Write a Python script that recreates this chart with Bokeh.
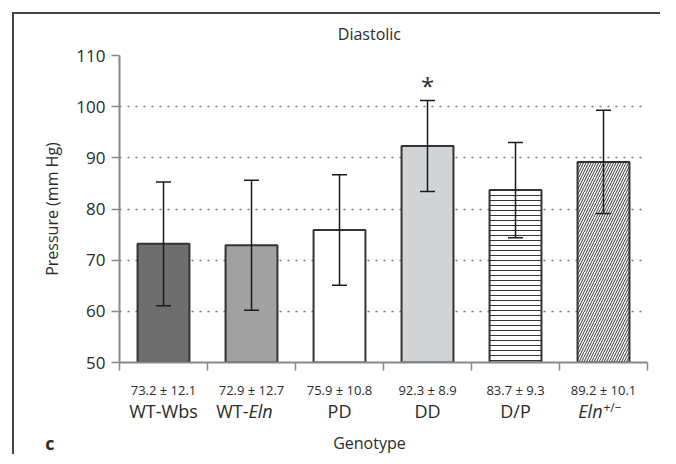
from bokeh.plotting import figure
from bokeh.models import Range1d, FixedTicker, Whisker, TeeHead, ColumnDataSource
from bokeh.layouts import column
from bokeh.core.properties import value
from bokeh.embed import file_html
from bokeh.resources import INLINE

# ---- data ----
categories = ["WT-Wbs", "WT-Eln", "PD", "DD", "D/P", "Eln+/-"]
means = [73.2, 72.9, 75.9, 92.3, 83.7, 89.2]
sds = [12.1, 12.7, 10.8, 8.9, 9.3, 10.1]
value_labels = ["73.2 ± 12.1", "72.9 ± 12.7", "75.9 ± 10.8", "92.3 ± 8.9", "83.7 ± 9.3", "89.2 ± 10.1"]
fills = ["#6e6e6e", "#a1a1a1", "#ffffff", "#d2d3d5", "#ffffff", "#ffffff"]
hatches = [" ", " ", " ", " ", "-", "/"]
y_ticks = [50, 60, 70, 80, 90, 100, 110]

FONT = "Open Sans"
TXT = "#2a2a2a"
W = 648
LEFT = 105          # space left of the plotting frame
RIGHT = W - LEFT - 528
xs = [i + 0.5 for i in range(len(categories))]
lows = [m - s for m, s in zip(means, sds)]
highs = [m + s for m, s in zip(means, sds)]
src = ColumnDataSource(dict(x=xs, top=means, fill=fills, hatch=hatches, low=lows, high=highs))

x_range = Range1d(0, 6)
BORDER = "2px solid #444444"


def text_strip(height, panel_letter=None, letter_y=None):
    f = figure(width=W, height=height, output_backend="svg", toolbar_location=None,
               x_range=x_range, y_range=Range1d(height, 0),
               min_border_left=LEFT, min_border_right=RIGHT, min_border_top=0, min_border_bottom=0,
               x_axis_location=None)
    f.grid.visible = False
    f.outline_line_color = None
    ax = f.yaxis[0]
    ax.axis_line_color = None
    ax.major_tick_line_color = None
    ax.minor_tick_line_color = None
    if panel_letter is None:
        ax.ticker = FixedTicker(ticks=[])
    else:
        ax.ticker = FixedTicker(ticks=[letter_y])
        ax.major_label_overrides = {letter_y: panel_letter}
        ax.major_label_text_font = FONT
        ax.major_label_text_font_size = "18px"
        ax.major_label_text_font_style = "bold"
        ax.major_label_text_color = TXT
        ax.major_label_standoff = 59
    return f


def put(f, x, y, text, size, style="normal", align="center", xoff=0):
    f.text(x=[x], y=[y], text=[text], text_font=value(FONT), text_font_size=size,
           text_font_style=style, text_align=align, text_baseline="middle",
           text_color=TXT, x_offset=xoff)


# ---- title strip ----
top = text_strip(30)
put(top, 2.84, 19, "Diastolic", "16px")

# ---- main chart ----
p = figure(width=W, height=340, output_backend="svg", toolbar_location=None,
           x_range=x_range, y_range=Range1d(50, 110),
           min_border_left=LEFT, min_border_right=RIGHT, min_border_top=13,
           min_border_bottom=20)
p.outline_line_color = None
p.xgrid.visible = False
p.ygrid.ticker = FixedTicker(ticks=y_ticks[1:])
p.ygrid.grid_line_color = "#777777"
p.ygrid.grid_line_dash = "2 6"
p.ygrid.grid_line_width = 1.5

p.vbar(x="x", top="top", bottom=50, width=0.59, source=src,
       fill_color="fill", line_color="#333333", line_width=2,
       hatch_pattern="hatch", hatch_color="#333333", hatch_scale=5, hatch_weight=1)

p.add_layout(Whisker(source=src, base="x", upper="high", lower="low", dimension="height",
                     line_color="#1a1a1a", line_width=1.5, level="overlay",
                     upper_head=TeeHead(size=15, line_color="#1a1a1a", line_width=1.5),
                     lower_head=TeeHead(size=15, line_color="#1a1a1a", line_width=1.5)))

p.text(x=[xs[3]], y=[highs[3]], text=["*"], text_font=value(FONT), text_font_size="24px",
       text_align="center", text_baseline="alphabetic", text_color=TXT, y_offset=-15)

p.xaxis.ticker = FixedTicker(ticks=list(range(len(categories) + 1)))
p.xaxis.major_label_text_font_size = "0px"
p.yaxis.ticker = FixedTicker(ticks=y_ticks)
for ax in (p.xaxis, p.yaxis):
    ax.axis_line_color = "#888888"
    ax.axis_line_width = 2
    ax.major_tick_line_color = "#888888"
    ax.major_tick_line_width = 1.5
    ax.major_tick_out = 8
    ax.major_tick_in = 0
    ax.minor_tick_line_color = None
p.yaxis.major_label_text_font = FONT
p.yaxis.major_label_text_font_size = "17px"
p.yaxis.major_label_text_color = TXT
p.yaxis.major_label_standoff = 6
p.yaxis.axis_label = "Pressure (mm Hg)"
p.yaxis.axis_label_text_font = FONT
p.yaxis.axis_label_text_font_size = "16px"
p.yaxis.axis_label_text_font_style = "normal"
p.yaxis.axis_label_text_color = TXT
p.yaxis.axis_label_standoff = 10

# ---- label strip below the axis ----
low = text_strip(72, panel_letter="c", letter_y=60)
for i, cx in enumerate(xs):
    put(low, cx, 7, value_labels[i], "13px")
for i in (0, 2, 3, 4):
    put(low, xs[i], 28, categories[i], "18px")
put(low, xs[1], 28, "WT-", "18px", align="right", xoff=-3)
put(low, xs[1], 28, "Eln", "18px", style="italic", align="left", xoff=-3)
put(low, xs[5], 28, "Eln", "18px", style="italic", align="right", xoff=-1)
put(low, xs[5], 25, "+/\u2212", "12px", align="left", xoff=0)
put(low, 2.84, 60, "Genotype", "16px")

# panel frame (top and left edges only) drawn on the figures themselves
top.styles = {"border-top": BORDER, "border-left": BORDER}
p.styles = {"border-left": BORDER}
low.styles = {"border-left": BORDER}

layout = column(top, p, low, margin=(12, 0, 0, 12))

open("out.html", "w").write(file_html(layout, INLINE))
